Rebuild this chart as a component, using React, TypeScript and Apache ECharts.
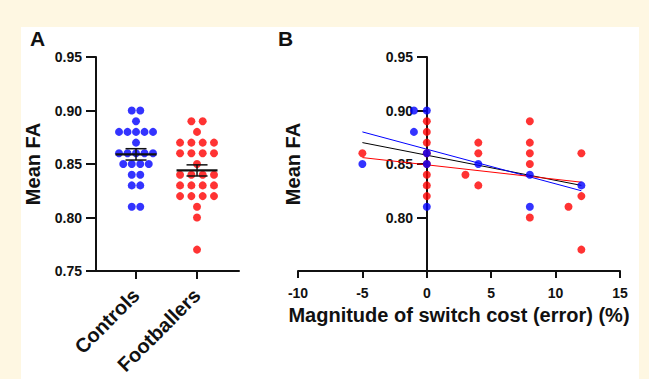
import React, { useEffect, useRef } from "react";
import * as echarts from "echarts";

const categories = ["Controls", "Footballers"];
const controlsFA = [0.9, 0.9, 0.89, 0.88, 0.88, 0.88, 0.88, 0.88, 0.87, 0.86, 0.86, 0.86, 0.86, 0.86, 0.85, 0.85, 0.85, 0.85, 0.84, 0.84, 0.83, 0.83, 0.81, 0.81];
const footballersFA = [0.89, 0.89, 0.88, 0.87, 0.87, 0.87, 0.87, 0.86, 0.86, 0.86, 0.86, 0.85, 0.84, 0.84, 0.84, 0.84, 0.83, 0.83, 0.83, 0.83, 0.82, 0.82, 0.82, 0.82, 0.81, 0.8, 0.77];
const groupMeans = [0.859, 0.844];
const groupSEM = [0.0053, 0.0052];

const controlsSwitch = [[-5, 0.85], [-1, 0.9], [-1, 0.88], [0, 0.9], [0, 0.86], [0, 0.85], [0, 0.81], [4, 0.85], [8, 0.84], [8, 0.81], [12, 0.83]];
const footballersSwitch = [[-5, 0.86], [0, 0.89], [0, 0.88], [0, 0.87], [0, 0.86], [0, 0.85], [0, 0.84], [0, 0.83], [0, 0.82], [3, 0.84], [4, 0.87], [4, 0.86], [4, 0.83], [8, 0.89], [8, 0.87], [8, 0.86], [8, 0.85], [8, 0.8], [11, 0.81], [12, 0.86], [12, 0.82], [12, 0.77]];
const controlsFit = [[-5, 0.88], [12, 0.825]];
const footballersFit = [[-5, 0.856], [12, 0.833]];
const allFit = [[-5, 0.87], [12, 0.83]];

const BLUE = "#0000ff";
const RED = "#ff0000";
const INK = "#111111";
const FONT = "Liberation Sans, Arial, sans-serif";

function swarm(values: number[], catPos: number, spacing: number) {
  const counts: Record<string, number> = {};
  values.forEach((v) => {
    const k = v.toFixed(3);
    counts[k] = (counts[k] || 0) + 1;
  });
  const seen: Record<string, number> = {};
  return values.map((v) => {
    const k = v.toFixed(3);
    const i = seen[k] || 0;
    seen[k] = i + 1;
    const n = counts[k];
    return { value: [catPos, v], symbolOffset: [(i - (n - 1) / 2) * spacing, 0] };
  });
}

export default function App() {
  const ref = useRef<HTMLDivElement>(null);
  useEffect(() => {
    document.body.style.margin = "0";
    const chart = echarts.init(ref.current!, null, { renderer: "svg" });
    const axisText = { color: INK, fontFamily: FONT, fontWeight: "bold" as const, fontSize: 14 };
    const nameText = { color: INK, fontFamily: FONT, fontWeight: "bold" as const, fontSize: 20 };
    const line = { show: true, lineStyle: { color: INK, width: 2 } };
    const option: any = {
      animation: false,
      backgroundColor: "#fef7e2",
      graphic: [
        { type: "rect", z: -10, shape: { x: 21, y: 27, width: 618, height: 352 }, style: { fill: "#ffffff" } },
        { type: "text", left: 30, top: 28, style: { text: "A", font: "bold 21px " + FONT, fill: INK } },
        { type: "text", left: 278, top: 28, style: { text: "B", font: "bold 21px " + FONT, fill: INK } },
      ],
      grid: [
        { left: 96, top: 57, width: 143, height: 214, outerBoundsMode: "none", containLabel: false },
        { left: 298, top: 57, width: 322, height: 214, outerBoundsMode: "none", containLabel: false },
      ],
      xAxis: [
        {
          gridIndex: 0, type: "value", min: 0.344, max: 2.688,
          axisLine: { ...line, onZero: false },
          axisTick: { show: true, length: 8, customValues: [1, 2], lineStyle: { color: INK, width: 2 } },
          axisLabel: { ...axisText, fontSize: 20, rotate: 45, margin: 21, customValues: [1, 2], formatter: (v: number) => categories[Math.round(v) - 1] || "" },
          splitLine: { show: false },
        },
        {
          gridIndex: 1, type: "value", min: -10, max: 15, interval: 5,
          axisLine: { ...line, onZero: false },
          axisTick: { show: true, length: 7, lineStyle: { color: INK, width: 2 } },
          axisLabel: { ...axisText, margin: 15 },
          splitLine: { show: false },
          name: "Magnitude of switch cost (error) (%)", nameLocation: "middle", nameGap: 30,
          nameTextStyle: nameText,
        },
      ],
      yAxis: [
        {
          gridIndex: 0, type: "value", min: 0.75, max: 0.95, interval: 0.05,
          axisLine: { ...line, onZero: false },
          axisTick: { show: true, length: 10, lineStyle: { color: INK, width: 2 } },
          axisLabel: { ...axisText, margin: 14, formatter: (v: number) => v.toFixed(2) },
          splitLine: { show: false },
          name: "Mean FA", nameLocation: "middle", nameGap: 53, nameTextStyle: nameText,
        },
        {
          gridIndex: 1, type: "value", min: 0.75, max: 0.95, interval: 0.05, offset: -129,
          axisLine: { ...line, onZero: false },
          axisTick: { show: true, length: 10, lineStyle: { color: INK, width: 2 } },
          axisLabel: { ...axisText, margin: 14, formatter: (v: number) => (v <= 0.751 ? "" : v.toFixed(2)) },
          splitLine: { show: false },
          name: "Mean FA", nameLocation: "middle", nameGap: 124, nameTextStyle: nameText,
        },
      ],
      series: [
        {
          type: "scatter", xAxisIndex: 0, yAxisIndex: 0, symbolSize: 8,
          itemStyle: { color: BLUE }, data: swarm(controlsFA, 1, 8.5),
        },
        {
          type: "scatter", xAxisIndex: 0, yAxisIndex: 0, symbolSize: 8,
          itemStyle: { color: RED }, data: swarm(footballersFA, 2, 11.3),
        },
        {
          type: "custom", xAxisIndex: 0, yAxisIndex: 0, z: 5,
          data: groupMeans.map((m, i) => [i + 1, m, groupSEM[i]]),
          renderItem: (params: any, api: any) => {
            const c = api.coord([api.value(0), api.value(1)]);
            const hi = api.coord([api.value(0), api.value(1) + api.value(2)]);
            const lo = api.coord([api.value(0), api.value(1) - api.value(2)]);
            const st = { stroke: INK, lineWidth: 1.5 };
            return {
              type: "group",
              children: [
                { type: "line", shape: { x1: c[0], y1: hi[1], x2: c[0], y2: lo[1] }, style: st },
                { type: "line", shape: { x1: c[0] - 10.5, y1: hi[1], x2: c[0] + 10.5, y2: hi[1] }, style: st },
                { type: "line", shape: { x1: c[0] - 10.5, y1: lo[1], x2: c[0] + 10.5, y2: lo[1] }, style: st },
                { type: "line", shape: { x1: c[0] - 20.5, y1: c[1], x2: c[0] + 20.5, y2: c[1] }, style: { stroke: INK, lineWidth: 2.2 } },
              ],
            };
          },
        },
        {
          type: "line", xAxisIndex: 1, yAxisIndex: 1, data: allFit, symbol: "none",
          lineStyle: { color: "#000000", width: 1 },
        },
        {
          type: "line", xAxisIndex: 1, yAxisIndex: 1, data: controlsFit, symbol: "none",
          lineStyle: { color: BLUE, width: 1 },
        },
        {
          type: "line", xAxisIndex: 1, yAxisIndex: 1, data: footballersFit, symbol: "none",
          lineStyle: { color: RED, width: 1 },
        },
        {
          type: "scatter", xAxisIndex: 1, yAxisIndex: 1, symbolSize: 8, z: 3,
          itemStyle: { color: RED }, data: footballersSwitch,
        },
        {
          type: "scatter", xAxisIndex: 1, yAxisIndex: 1, symbolSize: 8, z: 4,
          itemStyle: { color: BLUE }, data: controlsSwitch,
        },
      ],
    };
    chart.setOption(option);
    return () => chart.dispose();
  }, []);
  return <div ref={ref} style={{ width: 649, height: 379 }} />;
}
